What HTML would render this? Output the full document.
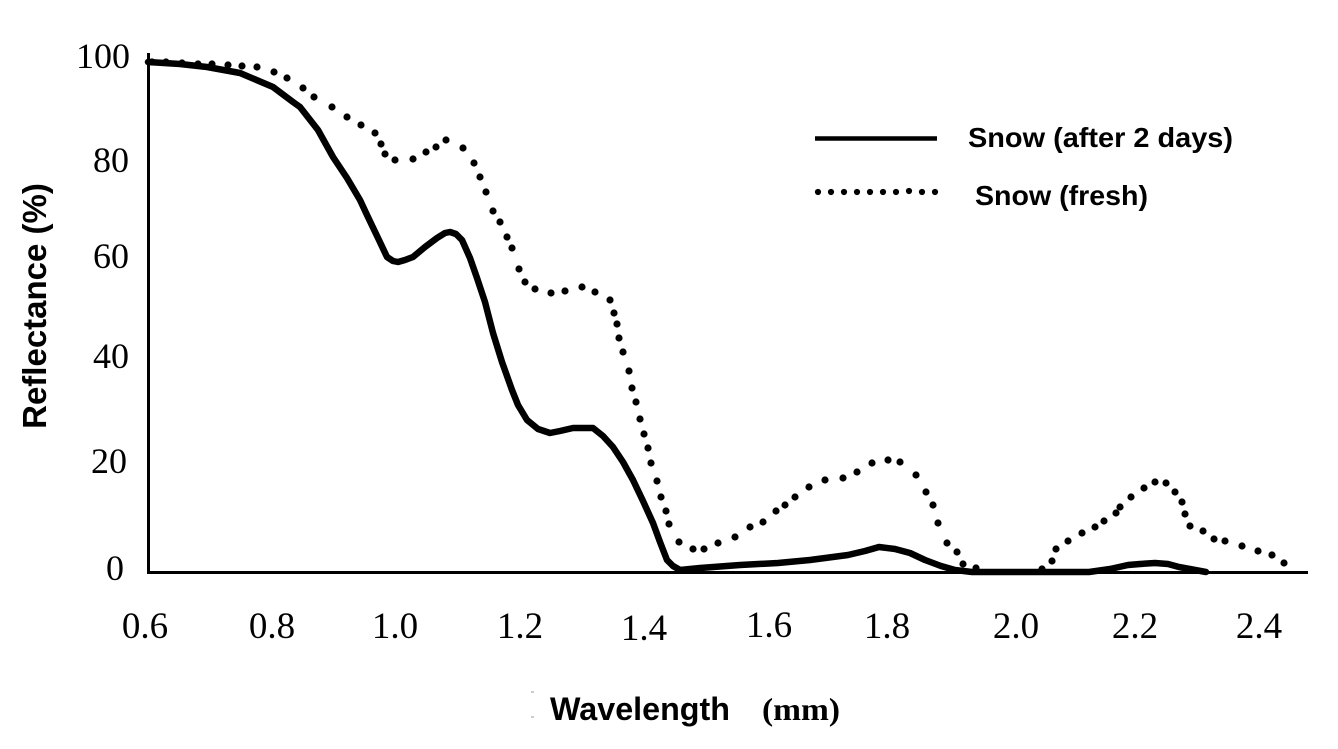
<!DOCTYPE html>
<html><head><meta charset="utf-8"><style>
html,body{margin:0;padding:0;background:#fff;}
svg{display:block;}
.n{font-family:"Liberation Serif",serif;font-size:36px;fill:#000;}
.b{font-family:"Liberation Sans",sans-serif;font-weight:bold;fill:#000;}
</style></head><body>
<svg width="1338" height="749" viewBox="0 0 1338 749" xmlns="http://www.w3.org/2000/svg">
<rect width="1338" height="749" fill="#fff"/>
<!-- axes -->
<line x1="148.5" y1="53" x2="148.5" y2="574" stroke="#000" stroke-width="3"/>
<line x1="147" y1="572.5" x2="1308" y2="572.5" stroke="#000" stroke-width="3"/>
<!-- y tick labels -->
<text class="n" x="130" y="68" text-anchor="end">100</text>
<text class="n" x="129" y="172" text-anchor="end">80</text>
<text class="n" x="129" y="268" text-anchor="end">60</text>
<text class="n" x="129" y="368" text-anchor="end">40</text>
<text class="n" x="127" y="473" text-anchor="end">20</text>
<text class="n" x="124" y="580" text-anchor="end">0</text>
<!-- x tick labels -->
<g class="n" text-anchor="middle" style="font-size:37px">
<text x="145" y="638">0.6</text>
<text x="272" y="638">0.8</text>
<text x="395" y="638">1.0</text>
<text x="520" y="638">1.2</text>
<text x="644" y="640">1.4</text>
<text x="769" y="637">1.6</text>
<text x="887" y="638">1.8</text>
<text x="1016" y="638">2.0</text>
<text x="1135" y="638">2.2</text>
<text x="1259" y="638">2.4</text>
</g>
<!-- axis titles -->
<text class="b" x="0" y="0" font-size="33" text-anchor="middle" transform="translate(46,306) rotate(-90)">Reflectance (%)</text>
<text class="b" x="550" y="720" font-size="32" textLength="180" lengthAdjust="spacingAndGlyphs">Wavelength</text>
<text x="762" y="720" font-family="Liberation Serif, serif" font-weight="bold" font-size="32" textLength="78" lengthAdjust="spacingAndGlyphs">(mm)</text>
<line x1="531" y1="692" x2="534" y2="692" stroke="#999" stroke-width="1"/>
<line x1="531" y1="717" x2="534" y2="717" stroke="#999" stroke-width="1"/>
<!-- solid series -->
<polyline fill="none" stroke="#000" stroke-width="6.5" stroke-linejoin="round" stroke-linecap="round" points="
148,62 180,64 207,67 240,73 273,87 293,102 300,107 318,130 333,157 347,178 360,200 367,215 378,238 387,257 393,261 398,262 405,260 413,257 425,247 437,238 445,233 450,232 456,234 462,240 470,258 477,278 485,302 493,333 502,362 512,390 518,405 527,420 538,429 550,433 560,431 573,428 585,428 593,428 603,436 613,447 623,462 633,480 643,501 653,523 660,542 667,560 673,566 680,570 700,568 740,565 778,563 810,560 848,555 865,551 879,547 895,549 910,553 925,560 941,566 955,570 972,572 1089,572 1110,569 1128,565 1140,564 1155,563 1168,564 1179,567 1206,572"/>
<!-- dotted series -->
<g fill="#000">
<circle cx="152" cy="62" r="3.6"/><circle cx="166" cy="62" r="3.6"/><circle cx="182" cy="63" r="3.6"/><circle cx="198" cy="64" r="3.6"/><circle cx="212" cy="64" r="3.6"/><circle cx="228" cy="65" r="3.6"/><circle cx="242" cy="66" r="3.6"/><circle cx="257" cy="67" r="3.6"/><circle cx="274" cy="72" r="3.6"/><circle cx="287" cy="78" r="3.6"/><circle cx="303" cy="88" r="3.6"/><circle cx="314" cy="97" r="3.6"/><circle cx="332" cy="107" r="3.6"/><circle cx="347" cy="117" r="3.6"/><circle cx="361" cy="125" r="3.6"/><circle cx="375" cy="133" r="3.6"/><circle cx="381" cy="144" r="3.6"/><circle cx="385" cy="154" r="3.6"/><circle cx="395" cy="160" r="3.6"/><circle cx="413" cy="159" r="3.6"/><circle cx="426" cy="152" r="3.6"/><circle cx="436" cy="147" r="3.6"/><circle cx="446" cy="140" r="3.6"/><circle cx="463" cy="148" r="3.6"/><circle cx="474" cy="163" r="3.6"/><circle cx="480" cy="177" r="3.6"/><circle cx="486" cy="192" r="3.6"/><circle cx="493" cy="211" r="3.6"/><circle cx="500" cy="222" r="3.6"/><circle cx="507" cy="237" r="3.6"/><circle cx="512" cy="248" r="3.6"/><circle cx="519" cy="269" r="3.6"/><circle cx="525" cy="282" r="3.6"/><circle cx="535" cy="289" r="3.6"/><circle cx="551" cy="293" r="3.6"/><circle cx="565" cy="291" r="3.6"/><circle cx="582" cy="287" r="3.6"/><circle cx="595" cy="292" r="3.6"/><circle cx="610" cy="300" r="3.6"/><circle cx="614" cy="313" r="3.6"/><circle cx="617" cy="324" r="3.6"/><circle cx="619" cy="338" r="3.6"/><circle cx="623" cy="352" r="3.6"/><circle cx="629" cy="371" r="3.6"/><circle cx="632" cy="388" r="3.6"/><circle cx="636" cy="402" r="3.6"/><circle cx="640" cy="419" r="3.6"/><circle cx="644" cy="434" r="3.6"/><circle cx="648" cy="448" r="3.6"/><circle cx="651" cy="463" r="3.6"/><circle cx="657" cy="481" r="3.6"/><circle cx="661" cy="497" r="3.6"/><circle cx="666" cy="511" r="3.6"/><circle cx="669" cy="524" r="3.6"/><circle cx="679" cy="542" r="3.6"/><circle cx="693" cy="549" r="3.6"/><circle cx="704" cy="549" r="3.6"/><circle cx="718" cy="543" r="3.6"/><circle cx="735" cy="537" r="3.6"/><circle cx="750" cy="527" r="3.6"/><circle cx="763" cy="522" r="3.6"/><circle cx="776" cy="511" r="3.6"/><circle cx="785" cy="505" r="3.6"/><circle cx="795" cy="497" r="3.6"/><circle cx="809" cy="487" r="3.6"/><circle cx="825" cy="480" r="3.6"/><circle cx="843" cy="478" r="3.6"/><circle cx="857" cy="472" r="3.6"/><circle cx="872" cy="463" r="3.6"/><circle cx="888" cy="460" r="3.6"/><circle cx="900" cy="462" r="3.6"/><circle cx="916" cy="475" r="3.6"/><circle cx="926" cy="492" r="3.6"/><circle cx="933" cy="505" r="3.6"/><circle cx="938" cy="523" r="3.6"/><circle cx="947" cy="543" r="3.6"/><circle cx="957" cy="552" r="3.6"/><circle cx="963" cy="564" r="3.6"/><circle cx="976" cy="568" r="3.6"/>
<circle cx="1042" cy="569" r="3.6"/><circle cx="1052" cy="561" r="3.6"/><circle cx="1056" cy="549" r="3.6"/><circle cx="1068" cy="541" r="3.6"/><circle cx="1082" cy="533" r="3.6"/><circle cx="1095" cy="527" r="3.6"/><circle cx="1104" cy="521" r="3.6"/><circle cx="1116" cy="513" r="3.6"/><circle cx="1120" cy="507" r="3.6"/><circle cx="1131" cy="497" r="3.6"/><circle cx="1144" cy="488" r="3.6"/><circle cx="1155" cy="482" r="3.6"/><circle cx="1166" cy="483" r="3.6"/><circle cx="1175" cy="492" r="3.6"/><circle cx="1182" cy="502" r="3.6"/><circle cx="1185" cy="514" r="3.6"/><circle cx="1190" cy="526" r="3.6"/><circle cx="1203" cy="531" r="3.6"/><circle cx="1214" cy="539" r="3.6"/><circle cx="1225" cy="541" r="3.6"/><circle cx="1242" cy="546" r="3.6"/><circle cx="1258" cy="551" r="3.6"/><circle cx="1272" cy="555" r="3.6"/><circle cx="1284" cy="563" r="3.6"/>
</g>
<!-- legend -->
<line x1="815" y1="138.5" x2="937" y2="138.5" stroke="#000" stroke-width="4.5"/>
<g fill="#000">
<circle cx="818" cy="192" r="3.1"/><circle cx="831" cy="192" r="3.1"/><circle cx="844" cy="192" r="3.1"/><circle cx="857" cy="192" r="3.1"/><circle cx="870" cy="192" r="3.1"/><circle cx="883" cy="192" r="3.1"/><circle cx="896" cy="192" r="3.1"/><circle cx="909" cy="191" r="3.1"/><circle cx="922" cy="192" r="3.1"/><circle cx="935" cy="192" r="3.1"/>
</g>
<text class="b" x="968" y="147" font-size="28" textLength="265" lengthAdjust="spacingAndGlyphs">Snow (after 2 days)</text>
<text class="b" x="975" y="205" font-size="28" textLength="173" lengthAdjust="spacingAndGlyphs">Snow (fresh)</text>
</svg>
</body></html>
